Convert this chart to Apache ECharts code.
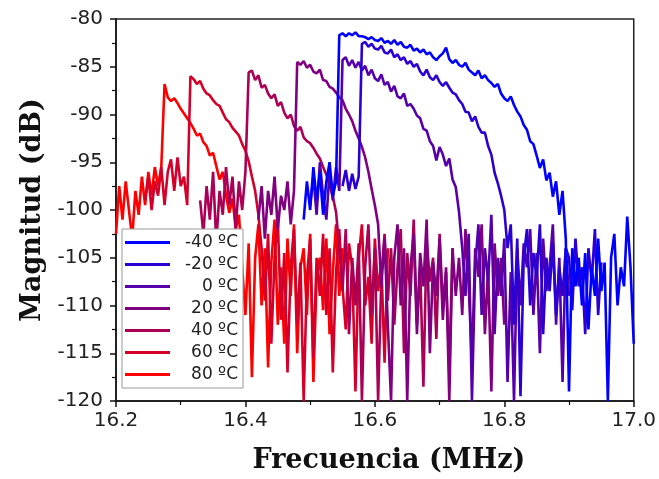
<!DOCTYPE html>
<html><head><meta charset="utf-8">
<script src="https://cdn.jsdelivr.net/npm/echarts@6/dist/echarts.min.js"></script>
<style>html,body{margin:0;padding:0;background:#fff}#c{width:659px;height:479px}</style>
</head><body><div id="c"></div>
<script>
// Frequency sampling grid (MHz)
const freq = [
16.2,16.205,16.21,16.215,16.22,16.225,16.23,16.235,16.24,16.245,
16.25,16.255,16.26,16.265,16.27,16.275,16.28,16.285,16.29,16.295,
16.3,16.305,16.31,16.315,16.32,16.325,16.33,16.335,16.34,16.345,
16.35,16.355,16.36,16.365,16.37,16.375,16.38,16.385,16.39,16.395,
16.4,16.405,16.41,16.415,16.42,16.425,16.43,16.435,16.44,16.445,
16.45,16.455,16.46,16.465,16.47,16.475,16.48,16.485,16.49,16.495,
16.5,16.505,16.51,16.515,16.52,16.525,16.53,16.535,16.54,16.545,
16.55,16.555,16.56,16.565,16.57,16.575,16.58,16.585,16.59,16.595,
16.6,16.605,16.61,16.615,16.62,16.625,16.63,16.635,16.64,16.645,
16.65,16.655,16.66,16.665,16.67,16.675,16.68,16.685,16.69,16.695,
16.7,16.705,16.71,16.715,16.72,16.725,16.73,16.735,16.74,16.745,
16.75,16.755,16.76,16.765,16.77,16.775,16.78,16.785,16.79,16.795,
16.8,16.805,16.81,16.815,16.82,16.825,16.83,16.835,16.84,16.845,
16.85,16.855,16.86,16.865,16.87,16.875,16.88,16.885,16.89,16.895,
16.9,16.905,16.91,16.915,16.92,16.925,16.93,16.935,16.94,16.945,
16.95,16.955,16.96,16.965,16.97,16.975,16.98,16.985,16.99,16.995,
17.0
];

const seriesNames = ['-40 ºC','-20 ºC','0 ºC','20 ºC','40 ºC','60 ºC','80 ºC'];
const seriesColors = ['#0000ff','#2a00d5','#5500aa','#800080','#aa0055','#d5002a','#ff0000'];

// -40 ºC
const startM40 = 16.49;
const dbM40 = [
-101,-97,-100,-95.5,-99,-96,-100.5,-97,-95,-98.5,-97,
-81.7,-81.5,-81.8,-81.5,-81.7,-81.4,-81.8,
-81.8,-81.9,-82.1,-81.9,-82.2,-82.3,-82.0,-82.5,-82.3,-82.6,
-82.2,-82.7,-82.4,-82.9,-83.0,-82.7,-83.3,-83.1,-83.5,-83.2,
-83.7,-83.5,-84.0,-84.3,-83.9,-83.6,-83.0,-84.2,-84.6,-84.3,
-84.8,-85.0,-84.6,-85.3,-85.6,-85.9,-85.4,-86.2,-85.9,-86.4,
-86.7,-87.1,-86.8,-87.8,-88.3,-88.6,-88.1,-89.0,-89.7,-90.2,
-91.1,-91.6,-92.8,-93.1,-94.3,-95.6,-94.7,-96.9,-96.1,-98.6,
-97.0,-100.5,-98.0,-103.0,
-119,-104,-108,-105,-110,-104.5,-112.5,-106,-109,-103,
-108.5,-105.5,-120,-105,-102.5,-110,-106,-108,-100.7,-106,-114
];

// -20 ºC
const startM20 = 16.55;
const dbM20 = [
-97.5,-95.8,-98.0,-96.2,-97.8,-96.5,
-82.6,-82.4,-82.9,-82.6,-83.1,-83.2,-82.8,-83.5,-83.6,-83.2,
-84.0,-83.7,-84.3,-84.0,-84.7,-84.4,-85.0,-84.7,-85.5,-85.9,
-85.3,-86.1,-86.4,-85.9,-86.6,-87.0,-86.6,-87.2,-87.7,-87.9,
-88.5,-88.9,-89.7,-89.8,-90.7,-90.2,-91.3,-91.9,-91.9,-93.3,
-94.2,-96.1,-97.2,-98.5,-100.0,
-104,-101.5,-112,-103,-119.5,-105,-102,-110,-104.5,-107,
-101.5,-113,-105,-108.5,-103.5,-111,-106,-109,-104,
-105,-110.5,-103,-108,-106,-113,-104,-107.5,-102,-111,-105.5
];

// 0 ºC
const start0 = 16.5;
const db0 = [
-99.5,-96.5,-100.5,-95,-98.5,-101,-96,-99,-95.5,-98,
-84.3,-84.0,-84.9,-84.3,-85.1,-84.5,-85.4,-84.9,-85.9,-85.3,
-86.2,-86.5,-85.8,-86.9,-86.6,-87.6,-87.0,-88.1,-88.3,-87.8,
-89.1,-88.9,-89.4,-90.1,-90.4,-91.5,-91.7,-92.8,-93.3,-94.8,
-93.4,-94.2,-95.4,-94.6,-96.8,-97.6,-100.2,
-104,-109,-102.5,-120,-106,-101.5,-111,-104,-107.5,-100.5,
-113,-105,-109,-103,-118,-106.5,-120,-104,-110,-103.5,
-106,-102,-111,-104.5,-115,-103,-108.5,-106,-101.5,-112,-105,-118,-104,-109
];

// 20 ºC
const start20 = 16.42;
const db20 = [
-101,-97.5,-103,-98,-100.5,-96.5,-102,-98.5,-100,-97,-101.5,-98,
-84.5,-84.8,-84.4,-85.1,-84.8,-85.5,-85.7,-85.3,-86.4,-86.5,
-87.1,-87.3,-87.7,-88.2,-88.5,-89.4,-90.0,-90.7,-91.7,-92.5,
-93.4,-94.5,-96.0,-97.8,-99.5,-101.5,
-108,-103,-112,-120,-105,-101.5,-110,-104,-120,-106,
-102.5,-113,-104.5,-108,-101,-115,-105.5,-109,-103,-111.5,
-106,-120,-104,-109,
-105,-111,-102,-108,-116,-104,-107,-101.5,-113,-106,-119,-103.5,-109,-105,-112
];

// 40 ºC
const start40 = 16.33;
const db40 = [
-99,-102.5,-97.5,-101,-96,-103.5,-98,-100.5,-95.5,-99.5,-96.5,-102,-97,-100,-96,
-85.6,-85.4,-86.4,-85.9,-87.2,-86.9,-87.8,-88.3,-87.9,-89.1,
-88.7,-89.8,-90.4,-90.0,-91.2,-91.7,-91.3,-92.4,-92.8,-93.0,
-93.5,-94.1,-94.6,-95.5,-96.3,-97.4,-98.6,-100.2,
-104,-108.5,-102,-113,-105,-110,-103.5,-120,-106,-101.5,
-111,-104,-120,-107,-102.5,-109.5,-104,-112,
-106,-102,-115,-104.5,-109,-101,-112,-106,-118.5,-103,-107.5,-105,-113.5,-102.5,-110,-106.5,-117,-104
];

// 60 ºC
const start60 = 16.245;
const db60 = [
-99,-96.5,-100,-97,-98.5,-95.5,-99.5,-96,-94.7,-98,-94.5,-97.5,-96.5,-99.5,
-86.0,-86.3,-86.8,-86.5,-87.3,-87.8,-88.0,-88.5,-88.9,-89.1,
-89.8,-90.5,-90.8,-91.4,-91.8,-92.2,-93.1,-93.8,-94.9,-96.5,
-98.0,-100.5,
-104,-109.5,-102.5,-114,-105,-101,-111.5,-104.5,-117,-106,
-102,-112,-105.5,-120,-107,-103,-115.5,-105,-109,-102.5,-111,
-104,-117,-106.5,-102,-108,-112.5,-103.5,-106,-119,-105,-101.5,-110,-107,-114,-103,-108.5,-105.5,-116,-104
];

// 80 ºC
const start80 = 16.2;
const db80 = [
-102.5,-97.5,-101,-97,-100,-103,-98,-100.5,-96.5,-99.5,-96,-98.5,-95.5,-97.5,-95.5,
-86.8,-88.2,-88.6,-88.3,-88.8,-89.4,-89.9,-90.4,-90.9,-91.5,
-92.2,-92.0,-92.9,-93.3,-94.3,-94.0,-95.4,-96.8,-96.0,-98.5,
-100.3,-98.8,-102,-100.5,
-106,-111,-103.5,-117.5,-105,-101.5,-110,-104,-116.5,-105.5,-101,-112,-106,-114,
-103,-109,-101.5,-115,-106,-104,-111,-102.5,-118,-107,-105,-110.5,-103,-113,-106.5,-101.5,-109,-104
];

const seriesStarts = [startM40, startM20, start0, start20, start40, start60, start80];
const seriesValues = [dbM40, dbM20, db0, db20, db40, db60, db80];

function pairUp(start, values) {
  const i0 = freq.indexOf(start);
  return values.map((v, i) => [freq[i0 + i], v]);
}

const labelFont = 'DejaVu Sans';
const titleFont = 'DejaVu Serif';
const axisColor = '#111';

// draw order: 80 ºC first (bottom), -40 ºC last (top)
const drawOrder = [6, 5, 4, 3, 2, 1, 0];

const chart = echarts.init(document.getElementById('c'), null, {renderer: 'canvas'});
chart.setOption({
  animation: false,
  backgroundColor: '#fff',
  grid: {left: 116, right: 25, top: 19, bottom: 77, show: true, borderColor: '#222', borderWidth: 1.5},
  legend: {
    orient: 'vertical', left: 122, top: 229,
    data: seriesNames,
    backgroundColor: '#fff', borderColor: '#999', borderWidth: 1,
    padding: [5, 5, 5, 3], itemWidth: 45, itemHeight: 3, itemGap: 5, icon: 'rect',
    formatter: n => '{a|' + n + '}',
    textStyle: {rich: {a: {width: 63, align: 'right', fontSize: 17, fontFamily: labelFont, color: '#222', lineHeight: 18}}}
  },
  xAxis: {
    type: 'value', min: 16.2, max: 17.0, interval: 0.2,
    name: 'Frecuencia (MHz)', nameLocation: 'middle', nameGap: 46,
    nameTextStyle: {fontFamily: titleFont, fontWeight: 'bold', fontSize: 27, color: '#111', padding: [0, 0, 0, 28]},
    axisLine: {show: true, onZero: false, lineStyle: {color: axisColor, width: 1.5}},
    axisTick: {show: true, length: 6, lineStyle: {color: axisColor, width: 1.5}},
    minorTick: {show: true, splitNumber: 2, length: 4, lineStyle: {color: axisColor, width: 1.2}},
    splitLine: {show: false},
    axisLabel: {formatter: v => v.toFixed(1), fontSize: 20, fontFamily: labelFont, color: '#222', margin: 10}
  },
  yAxis: {
    type: 'value', min: -120, max: -80, interval: 5,
    name: 'Magnitud (dB)', nameLocation: 'middle', nameGap: 70,
    nameTextStyle: {fontFamily: titleFont, fontWeight: 'bold', fontSize: 27, color: '#111'},
    axisLine: {show: true, onZero: false, lineStyle: {color: axisColor, width: 1.5}},
    axisTick: {show: true, length: 6, lineStyle: {color: axisColor, width: 1.5}},
    minorTick: {show: true, splitNumber: 2, length: 4, lineStyle: {color: axisColor, width: 1.2}},
    splitLine: {show: false},
    axisLabel: {fontSize: 20, fontFamily: labelFont, color: '#222', margin: 13}
  },
  series: drawOrder.map(k => ({
    name: seriesNames[k], type: 'line', symbol: 'none', showSymbol: false,
    data: pairUp(seriesStarts[k], seriesValues[k]),
    color: seriesColors[k],
    lineStyle: {color: seriesColors[k], width: 2.6},
    emphasis: {disabled: true}
  }))
});
</script>
</body></html>
